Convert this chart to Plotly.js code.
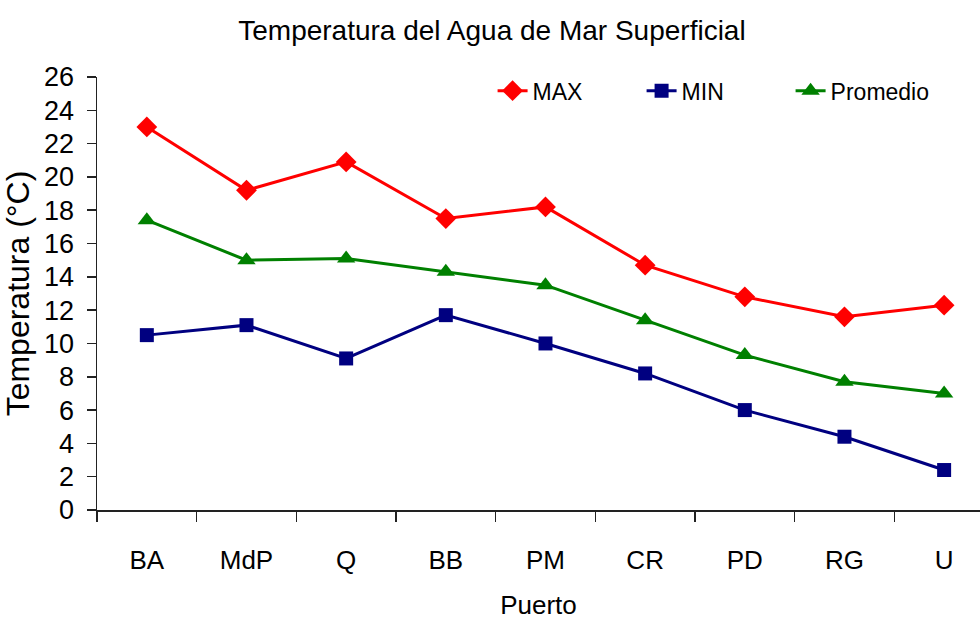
<!DOCTYPE html>
<html><head><meta charset="utf-8">
<script src="https://cdn.plot.ly/plotly-3.0.1.min.js"></script>
<style>html,body{margin:0;padding:0;background:#fff}#chart{width:980px;height:621px}</style>
</head><body><div id="chart"></div>
<script>
const puertos = ["BA","MdP","Q","BB","PM","CR","PD","RG","U"];
const maxVals = [23.0, 19.2, 20.9, 17.5, 18.2, 14.7, 12.8, 11.6, 12.3];
const minVals = [10.5, 11.1, 9.1, 11.7, 10.0, 8.2, 6.0, 4.4, 2.4];
const promVals = [17.4, 15.0, 15.1, 14.3, 13.5, 11.4, 9.3, 7.7, 7.0];
const yTicks = [0,2,4,6,8,10,12,14,16,18,20,22,24,26];

const font = "Liberation Sans, Arial, sans-serif";
const traces = [
  {x: puertos, y: maxVals, name: "MAX", mode: "lines+markers", line: {color: "#FF0000", width: 3}, marker: {symbol: "diamond", size: 16, color: "#FF0000"}},
  {x: puertos, y: minVals, name: "MIN", mode: "lines+markers", line: {color: "#000080", width: 3}, marker: {symbol: "square", size: 14, color: "#000080"}},
  {x: puertos, y: promVals, name: "Promedio", mode: "lines+markers", line: {color: "#008000", width: 3}, marker: {symbol: "triangle-up", size: 16, color: "#008000"}}
];
const layout = {
  width: 980, height: 621,
  margin: {l: 97, r: 0, t: 77, b: 111},
  paper_bgcolor: "#fff", plot_bgcolor: "#fff",
  font: {family: font, color: "#000"},
  title: {text: "Temperatura del Agua de Mar Superficial", font: {size: 28, family: font, color: "#000"}, x: 0.502, xanchor: "center", xref: "container", y: 0.952, yanchor: "middle", yref: "container"},
  showlegend: true,
  legend: {orientation: "h", x: 0.448, y: 1.018, xanchor: "left", yanchor: "top", font: {size: 23, family: font}, bgcolor: "rgba(0,0,0,0)", entrywidth: 104, entrywidthmode: "pixels"},
  xaxis: {
    type: "category", range: [-0.5, 8.36], tickson: "boundaries",
    ticks: "outside", ticklen: 10, tickwidth: 1.5, tickcolor: "#222",
    showline: true, linecolor: "#222", linewidth: 1.5, showgrid: false, zeroline: false,
    tickfont: {size: 26, family: font}, ticklabelstandoff: 26,
    title: {text: "Puerto", font: {size: 26, family: font}, standoff: 22}
  },
  yaxis: {
    range: [0, 26], tickvals: yTicks, ticktext: yTicks.map(String),
    ticks: "outside", ticklen: 9, tickwidth: 1.5, tickcolor: "#222",
    showline: true, linecolor: "#222", linewidth: 1.5, showgrid: false, zeroline: false,
    tickfont: {size: 27, family: font}, ticklabelstandoff: 7,
    title: {text: "Temperatura (°C)", font: {size: 32, family: font}, standoff: 6}
  }
};
Plotly.newPlot("chart", traces, layout, {staticPlot: true, displayModeBar: false});
</script></body></html>
